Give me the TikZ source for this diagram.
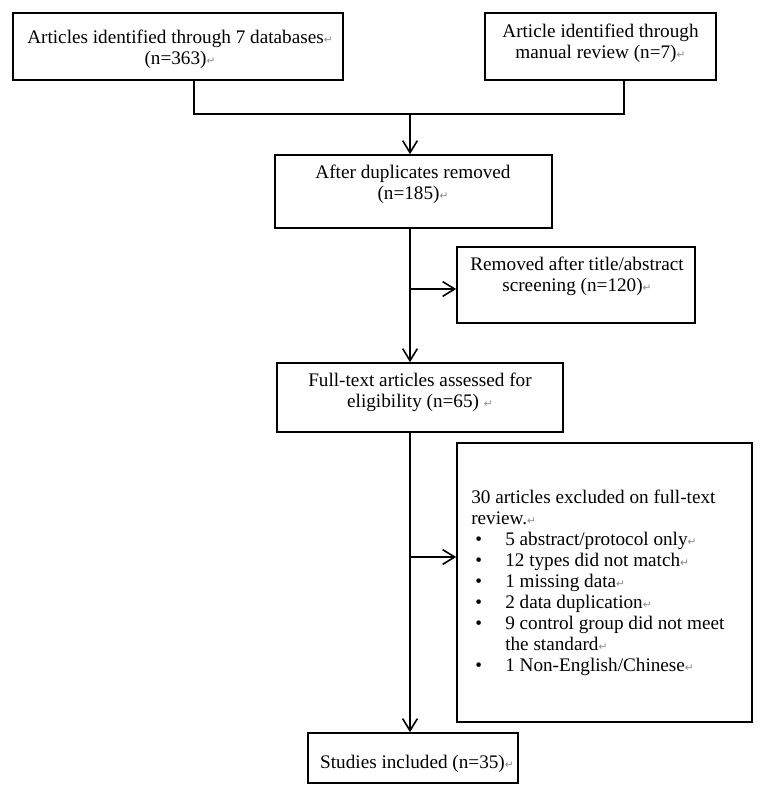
\documentclass[tikz,border=0pt]{standalone}
\usepackage{fontspec}
\setmainfont{Liberation Serif}
\newfontfamily\dejavu{DejaVu Sans}
\usetikzlibrary{arrows.meta,calc}
\newcommand\pmark{\textcolor{black!45}{\fontsize{8}{8}\selectfont\dejavu ↵}}
\newcommand\bul{\makebox[25.5pt][l]{\hspace{3pt}•}}
\begin{document}
\begin{tikzpicture}[x=0.75pt,y=-0.75pt,
  box/.style={draw=black,line width=1.2pt,rectangle,inner sep=0pt},
  txt/.style={inner sep=0pt,font=\fontsize{14.4}{15.75}\selectfont},
  conn/.style={draw=black,line width=1.2pt},
  arr/.style={conn,-{Straight Barb[length=9pt,width=11pt,line width=1.2pt]}}]
\useasboundingbox (0,0) rectangle (765,797);
\fill[white] (0,0) rectangle (765,797);
% boxes
\node[box,minimum width=247.5pt,minimum height=50.25pt] (b1) at (178,46.5) {};
\node[box,minimum width=173.25pt,minimum height=50.25pt] (b2) at (600.5,46.5) {};
\node[box,minimum width=207.75pt,minimum height=54.75pt] (b3) at (413.5,191.5) {};
\node[box,minimum width=178.5pt,minimum height=57pt] (b4) at (576,285) {};
\node[box,minimum width=214.5pt,minimum height=51.75pt] (b5) at (420,397.5) {};
\node[box,minimum width=221.25pt,minimum height=209.25pt] (b6) at (604.5,582.5) {};
\node[box,minimum width=157.5pt,minimum height=37.5pt] (b7) at (413,758) {};
% texts
\node[txt,anchor=base] (t1) at (180,43) {\begin{tabular}[t]{@{}c@{}}Articles identified through 7 databases\pmark\\(n=363)\pmark\end{tabular}};
\node[txt,anchor=base] (t2) at (600.5,37) {\begin{tabular}[t]{@{}c@{}}Article identified through\\manual review (n=7)\pmark\end{tabular}};
\node[txt,anchor=base] (t3) at (413,178) {\begin{tabular}[t]{@{}c@{}}After duplicates removed\\(n=185)\pmark\end{tabular}};
\node[txt,anchor=base] (t4) at (577,270) {\begin{tabular}[t]{@{}c@{}}Removed after title/abstract\\screening (n=120)\pmark\end{tabular}};
\node[txt,anchor=base] (t5) at (420,386) {\begin{tabular}[t]{@{}c@{}}Full-text articles assessed for\\eligibility (n=65) \pmark\end{tabular}};
\node[txt,anchor=base west] (t6) at (471,503) {\begin{tabular}[t]{@{}l@{}}
30 articles excluded on full-text\\
review.\pmark\\
\bul 5 abstract/protocol only\pmark\\
\bul 12 types did not match\pmark\\
\bul 1 missing data\pmark\\
\bul 2 data duplication\pmark\\
\bul 9 control group did not meet\\
\hspace{25.5pt}the standard\pmark\\
\bul 1 Non-English/Chinese\pmark
\end{tabular}};
\node[txt,anchor=base] (t7) at (417,768) {Studies included (n=35)\pmark};
% connectors
\coordinate (t) at (410,0);
\coordinate (j) at (410,114);
\coordinate (a4) at (410,289);
\coordinate (a6) at (410,557);
\draw[conn] ([xshift=12pt]b1.south) |- (j);
\draw[conn] ([xshift=17.5pt]b2.south) |- (j);
\draw[arr] (j) -- (b3.north -| t);
\draw[arr] (b3.south -| t) -- (b5.north -| t);
\draw[arr] (b5.south -| t) -- (b7.north -| t);
\draw[arr] (a4) -- (a4 -| b4.west);
\draw[arr] (a6) -- (a6 -| b6.west);
\end{tikzpicture}
\end{document}
